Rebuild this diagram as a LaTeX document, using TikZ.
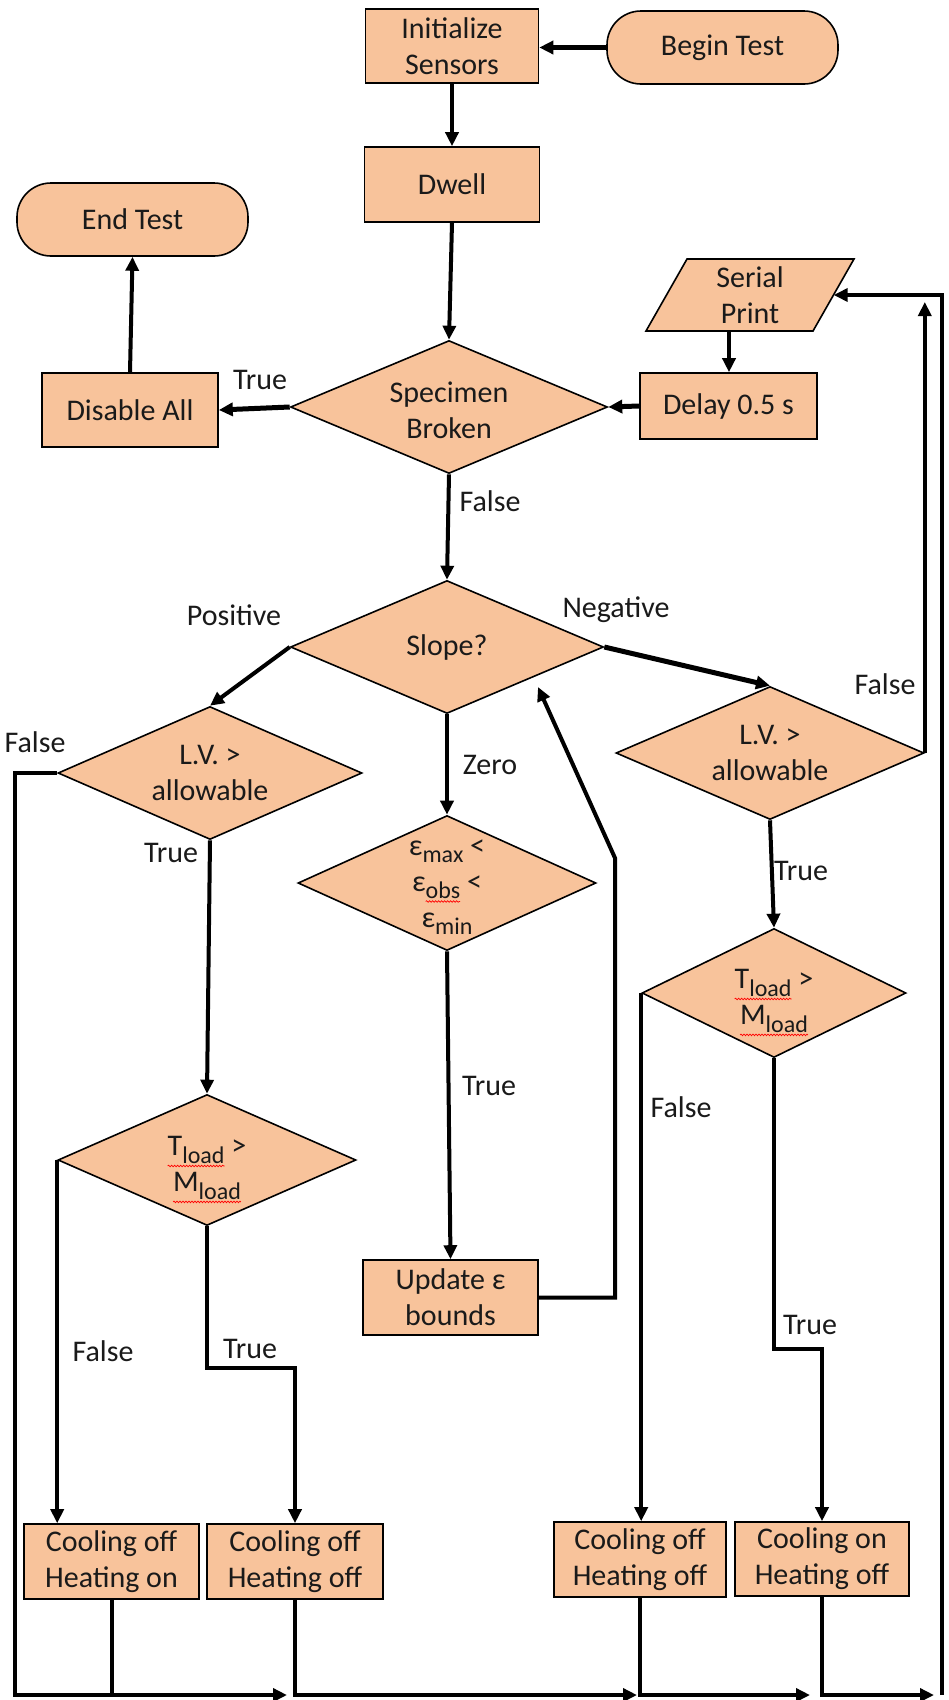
\documentclass[tikz,border=0pt]{standalone}
\usepackage{fontspec}
\setmainfont{Carlito}
\usetikzlibrary{arrows.meta,shapes.geometric,decorations.pathmorphing}

\definecolor{peach}{HTML}{F8C39B}
\definecolor{ink}{HTML}{1A1A1A}

% lowered subscript in the running font
\newcommand\lsub[1]{\raisebox{-0.24em}{\fontsize{24}{24}\selectfont #1}}
% red spell-check wave under a piece of text
\newsavebox\wavebox
\newlength\wavewd
\newcommand\wavy[2]{\sbox\wavebox{#2}\setlength\wavewd{\wd\wavebox}%
  \rlap{\tikz[overlay,baseline=0pt,x=1pt,y=1pt]\draw[red,line width=0.7pt,decorate,
    decoration={snake,amplitude=0.8pt,segment length=3pt}] (0pt,#1) -- (\wavewd,#1);}%
  \usebox\wavebox}

\begin{document}
\begin{tikzpicture}[x=1pt,y=-1pt,
  font=\fontsize{30}{36}\selectfont,
  box/.style={draw=black,line width=1.6pt,fill=peach,text=ink,align=center,inner sep=2pt},
  proc/.style={box,rectangle},
  term/.style={box,rectangle,rounded corners=34pt},
  dec/.style={box,diamond,inner sep=0pt},
  dtext/.style={align=center,text=ink},
  conn/.style={line width=4pt,-{Triangle[length=14pt,width=13pt]}},
  wire/.style={line width=4pt},
  lab/.style={text=ink}]

\fill[white] (0,0) rectangle (948,1700);
\useasboundingbox (0,0) rectangle (948,1700);

% ---- start / end and the main chain
\node[proc, minimum width=173, minimum height=74] (init) at (452,46) {Initialize\\Sensors};
\node[term, minimum width=231, minimum height=73] (begin) at (722.5,47.5) {Begin Test};
\node[proc, minimum width=175, minimum height=75] (dwell) at (452,184.5) {Dwell};
\node[term, minimum width=231, minimum height=73] (endt) at (132.5,219.5) {End Test};

% serial print (parallelogram)
\draw[box] (687,259) -- (854,259) -- (813,331) -- (646,331) -- cycle;
\node[dtext, minimum width=167, minimum height=72, inner sep=0pt] (sp) at (750,295) {Serial\\Print};
\coordinate (spBot) at (729,331);

\node[proc, minimum width=177, minimum height=66] (delay) at (728.5,406) {Delay 0.5 s};
\node[proc, minimum width=176, minimum height=74] (disable) at (130,410) {Disable All};

\node[dec, minimum width=317, minimum height=133,
  label={[dtext,yshift=-3pt]center:Specimen\\Broken}] (broken) at (449,407) {};
\node[dec, minimum width=313, minimum height=133,
  label={[dtext]center:Slope?}] (slope) at (447,647) {};

% ---- second level decisions
\node[dec, minimum width=304, minimum height=133,
  label={[dtext]center:L.V. >\\allowable}] (lvL) at (210,773) {};
\node[dec, minimum width=308, minimum height=133,
  label={[dtext]center:L.V. >\\allowable}] (lvR) at (770,753) {};
\node[dec, minimum width=298, minimum height=135,
  label={[dtext,yshift=-4pt]center:ε\lsub{max} <\\ε\lsub{\wavy{-3pt}{obs}} <\\ε\lsub{min}}] (eps) at (447,883) {};
\node[dec, minimum width=264, minimum height=129,
  label={[dtext,yshift=-8pt]center:\wavy{-10pt}{T\lsub{load}} >\\\wavy{-10pt}{M\lsub{load}}}] (tR) at (774,993) {};
\node[dec, minimum width=298, minimum height=131,
  label={[dtext,yshift=-8pt]center:\wavy{-10pt}{T\lsub{load}} >\\\wavy{-10pt}{M\lsub{load}}}] (tL) at (207,1160) {};
\node[proc, minimum width=175, minimum height=75] (upd) at (450.5,1297.5) {Update ε\\bounds};

% ---- actuator states
\node[proc, minimum width=175, minimum height=75] (c1) at (111.5,1561.5) {Cooling off\\Heating on};
\node[proc, minimum width=176, minimum height=75] (c2) at (295,1561.5) {Cooling off\\Heating off};
\node[proc, minimum width=172, minimum height=75] (c3) at (640,1559.5) {Cooling off\\Heating off};
\node[proc, minimum width=174, minimum height=74] (c4) at (822,1559) {Cooling on\\Heating off};

% ---- routing points
\coordinate (tLbend) at (207,1368);
\coordinate (tRbend) at (774,1349);
\coordinate (loopA) at (615,858);
\coordinate (loopTip) at (538,687);
\coordinate (bl) at (15,1695);
\coordinate (a1) at (287,1695);
\coordinate (a2) at (637,1695);
\coordinate (a3) at (810,1695);
\coordinate (a4) at (934,1695);
\coordinate (br) at (942,1695);
\coordinate (inTip) at (924,302);

% ---- connectors
\draw[conn, line width=5.5pt] (begin.west) -- (begin.west -| init.east);
\draw[conn] (init.south) -- (dwell.north);
\draw[conn] (dwell.south) -- (broken.north);
\draw[conn, line width=5pt] (broken.west) -- (disable.east);
\draw[conn] (disable.north) -- (endt.south);
\draw[conn, line width=5pt] (delay.west) -- (broken.east);
\draw[conn] (spBot) -- (spBot |- delay.north);
\draw[conn] (broken.south) -- (slope.north);
\draw[conn] (slope.west) -- (lvL.north);
\draw[conn, line width=5pt] (slope.east) -- (lvR.north);
\draw[conn] (slope.south) -- (eps.north);
\draw[conn] (eps.south) -- (upd.north);
\draw[conn] (upd.east) -| (loopA) -- (loopTip);
\draw[conn] (lvL.south) -- (tL.north);
\draw[conn] (lvR.south) -- (tR.north);
\draw[conn] (tL.west) -- (tL.west |- c1.north);
\draw[conn] (tL.south) -- (tLbend) -| (c2.north);
\draw[conn] (tR.west) -- (tR.west |- c3.north);
\draw[conn] (tR.south) -- (tRbend) -| (c4.north);

% return bus along the bottom and up the right side
\draw[conn] (lvL.west) -| (bl) -- (a1);
\draw[wire] (c1.south) -- (c1.south |- bl);
\draw[conn] (c2.south) |- (a2);
\draw[conn] (c3.south) |- (a3);
\draw[conn] (c4.south) |- (a4);
\draw[conn] (br) |- (sp.east);
\draw[conn] (lvR.east) -- (lvR.east |- inTip);

% ---- branch labels
\node[lab] (l1) at (260,380) {True};
\node[lab] (l2) at (490,501) {False};
\node[lab] (l3) at (234,615) {Positive};
\node[lab] (l4) at (616,610) {Negative};
\node[lab] (l5) at (885,684) {False};
\node[lab] (l6) at (35,742) {False};
\node[lab] (l7) at (490,765) {Zero};
\node[lab] (l8) at (171,853) {True};
\node[lab] (l9) at (801,871) {True};
\node[lab] (l10) at (489,1086) {True};
\node[lab] (l11) at (681,1107) {False};
\node[lab] (l12) at (103,1351) {False};
\node[lab] (l13) at (250,1349) {True};
\node[lab] (l14) at (810,1325) {True};
\end{tikzpicture}
\end{document}
